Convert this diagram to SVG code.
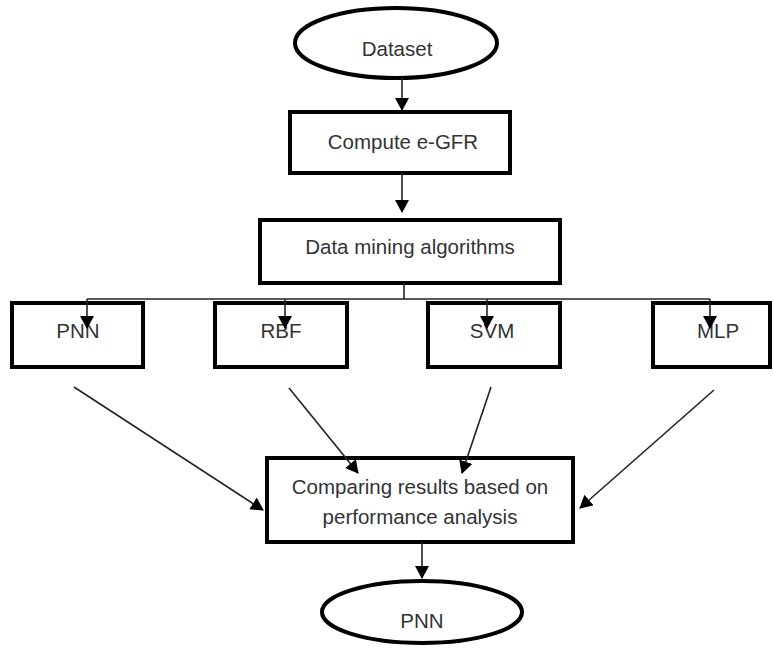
<svg xmlns="http://www.w3.org/2000/svg" width="774" height="648" viewBox="0 0 774 648">
<style>
.box{fill:#fff;stroke:#000;stroke-width:4}
.el{fill:#fff;stroke:#000;stroke-width:4}
.t{font-family:"Liberation Sans",Arial,sans-serif;font-size:20.5px;fill:#333;text-anchor:middle}
.c{stroke:#222;stroke-width:1.6;fill:none}
.cn{stroke:#222;stroke-width:1.6;fill:none;marker-end:url(#ah)}
</style>
<defs>
<marker id="ah" markerWidth="13" markerHeight="14" refX="12" refY="7" orient="auto" markerUnits="userSpaceOnUse">
<path d="M0,0 L13,7 L0,14 Z" fill="#000"/>
</marker>
</defs>
<rect width="774" height="648" fill="#fff"/>
<g id="dataset"><ellipse class="el" cx="396" cy="43" rx="101" ry="35"/><text class="t" x="397" y="56">Dataset</text></g>
<g id="egfr"><rect class="box" x="290" y="112" width="220" height="61"/><text class="t" x="403" y="149">Compute e-GFR</text></g>
<g id="dm"><rect class="box" x="260" y="220" width="300" height="63"/><text class="t" x="410" y="254">Data mining algorithms</text></g>
<g id="pnn"><rect class="box" x="12" y="303" width="131" height="64"/><text class="t" x="78" y="338">PNN</text></g>
<g id="rbf"><rect class="box" x="215" y="303" width="132" height="64"/><text class="t" x="281" y="338">RBF</text></g>
<g id="svm"><rect class="box" x="428" y="303" width="132" height="64"/><text class="t" x="492" y="338">SVM</text></g>
<g id="mlp"><rect class="box" x="653" y="303" width="117" height="64"/><text class="t" x="718" y="338">MLP</text></g>
<g id="compare"><rect class="box" x="267" y="458" width="306" height="84"/><text class="t" x="420" y="494">Comparing results based on</text><text class="t" x="420" y="524">performance analysis</text></g>
<g id="result"><ellipse class="el" cx="422" cy="612" rx="100" ry="31"/><text class="t" x="422" y="628">PNN</text></g>
<g id="connectors">
<line class="cn" x1="402" y1="78" x2="402" y2="110"/>
<line class="cn" x1="402" y1="173" x2="402" y2="212"/>
<line class="c" x1="404" y1="283" x2="404" y2="299"/>
<line class="c" x1="87" y1="299" x2="710" y2="299"/>
<line class="cn" x1="87" y1="299" x2="87" y2="328"/>
<line class="cn" x1="285" y1="299" x2="285" y2="328"/>
<line class="cn" x1="487" y1="299" x2="487" y2="328"/>
<line class="cn" x1="710" y1="299" x2="710" y2="328"/>
<line class="cn" x1="74" y1="387" x2="263" y2="510"/>
<line class="cn" x1="289" y1="388" x2="358" y2="473"/>
<line class="cn" x1="491" y1="387" x2="462" y2="473"/>
<line class="cn" x1="714" y1="390" x2="580" y2="508"/>
<line class="cn" x1="422" y1="542" x2="422" y2="578"/>
</g>
</svg>
